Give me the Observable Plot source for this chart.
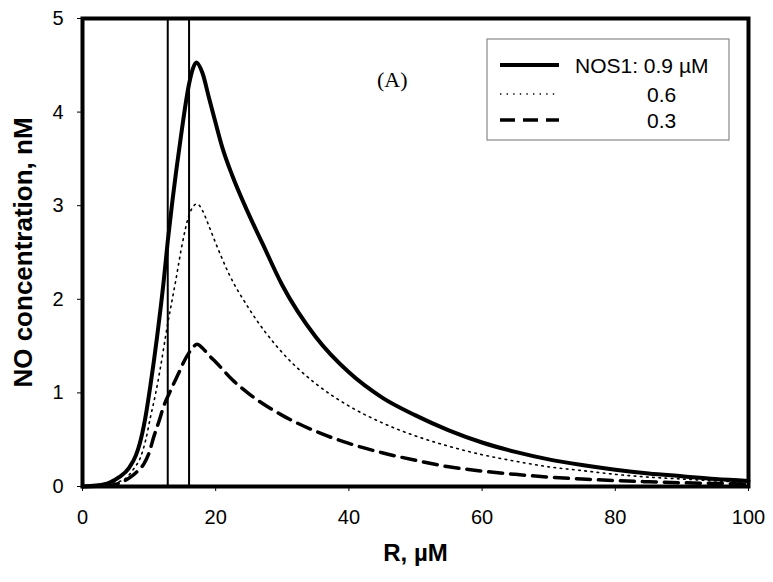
<!DOCTYPE html>
<html><head><meta charset="utf-8">
<script src="https://cdn.jsdelivr.net/npm/d3@7"></script>
<script src="https://cdn.jsdelivr.net/npm/@observablehq/plot@0.6"></script>
<style>
body{margin:0;background:#fff;}
</style></head><body><div id="chart"></div>
<script>
const seriesNames = ["NOS1: 0.9 \u00b5M", "0.6", "0.3"];
const xTicks = [0, 20, 40, 60, 80, 100];
const yTicks = [0, 1, 2, 3, 4, 5];
const xTitle = "R, \u00b5M";
const yTitle = "NO concentration, nM";
const markerLines = [12.8, 16];
const annotation = [{R: 46.5, C: 4.34, label: "(A)"}];

const r09 = [0,2,4,5.5,7,8,8.6,9.4,10.2,11.2,12.2,12.8,13.5,14.7,16,16.6,17.1,18,19,20,21,22.5,24.7,27,30,35,40,45,50,55,60,65,70,75,80,85,90,95,100];
const c09 = [0,0.01,0.04,0.1,0.2,0.33,0.46,0.72,1.08,1.6,2.2,2.62,3.05,3.7,4.3,4.47,4.53,4.42,4.15,3.88,3.62,3.32,2.95,2.6,2.15,1.6,1.22,0.95,0.76,0.6,0.47,0.37,0.29,0.23,0.18,0.14,0.11,0.08,0.06];

const r06 = [0,3,5,6.7,7.7,8.7,9.5,10.2,11,11.7,12.7,14,15,16,17.2,18,19,20,22,25,30,35,40,45,50,55,60,65,70,75,80,85,90,95,100];
const c06 = [0,0.01,0.04,0.1,0.19,0.31,0.5,0.74,1.0,1.27,1.7,2.2,2.6,2.9,3.02,2.95,2.78,2.6,2.27,1.9,1.43,1.1,0.86,0.68,0.54,0.43,0.34,0.27,0.21,0.17,0.13,0.10,0.08,0.06,0.045];

const r03 = [0,4,6,7.2,8.2,9.2,10,10.7,11.5,12.2,13,13.7,14.5,15.2,16,16.5,17.2,18,19,20,22.5,25,30,35,40,45,50,55,60,65,70,75,80,85,90,95,100];
const c03 = [0,0.01,0.05,0.1,0.16,0.24,0.36,0.53,0.7,0.86,0.99,1.1,1.22,1.33,1.43,1.48,1.52,1.48,1.4,1.33,1.14,0.99,0.76,0.59,0.46,0.36,0.28,0.21,0.165,0.13,0.1,0.08,0.063,0.05,0.04,0.033,0.027];

const toRows = (rs, cs) => rs.map((R, i) => ({R, C: cs[i]}));
const d09 = toRows(r09, c09), d06 = toRows(r06, c06), d03 = toRows(r03, c03);

const styles = [
  {stroke: "#000", strokeWidth: 4, strokeDasharray: null},
  {stroke: "#000", strokeWidth: 1.6, strokeDasharray: "1.6 4.6"},
  {stroke: "#000", strokeWidth: 3.5, strokeDasharray: "14 8"}
];

const W = 773, H = 582, ML = 82, MR = 25, MT = 18, MB = 96;

const plot = Plot.plot({
  width: W, height: H,
  marginLeft: ML, marginRight: MR, marginTop: MT, marginBottom: MB,
  style: {fontFamily: "'Liberation Sans', Arial, sans-serif", fontSize: "20px", color: "#000", background: "#fff"},
  x: {domain: [0, 100], ticks: xTicks, tickSize: 5, tickPadding: 18, tickFormat: "d", label: null},
  y: {domain: [0, 5], ticks: yTicks, tickSize: 5, tickPadding: 14, tickFormat: "d", label: null},
  marks: [
    Plot.ruleX(markerLines, {y1: 0, y2: 5, stroke: "#000", strokeWidth: 2}),
    Plot.line(d03, {x: "R", y: "C", curve: "monotone-x", ...styles[2]}),
    Plot.line(d06, {x: "R", y: "C", curve: "monotone-x", ...styles[1]}),
    Plot.line(d09, {x: "R", y: "C", curve: "monotone-x", ...styles[0]}),
    Plot.frame({stroke: "#000", strokeWidth: 4}),
    Plot.text(annotation, {x: "R", y: "C", text: "label", fontFamily: "'Liberation Serif', 'Times New Roman', serif", fontSize: 22, fill: "#000"}),
    Plot.text([yTitle], {frameAnchor: "left", textAnchor: "middle", dx: -59, rotate: -90, fontWeight: "bold", fontSize: 26, fill: "#000"}),
    Plot.text([xTitle], {frameAnchor: "bottom", dy: 74, fontWeight: "bold", fontSize: 24, fill: "#000"})
  ]
});

document.getElementById("chart").appendChild(plot);

// Legend box inside the plot area
const svg = d3.select(plot);
const lg = svg.append("g").attr("class", "legend");
lg.append("rect").attr("x", 487).attr("y", 39).attr("width", 242).attr("height", 101)
  .attr("fill", "#fff").attr("stroke", "#888").attr("stroke-width", 1.2);
const rowsY = [65, 94, 120];
const textX = [575, 647, 647];
seriesNames.forEach((name, i) => {
  const s = styles[i];
  const ln = lg.append("line").attr("x1", 500).attr("x2", 559).attr("y1", rowsY[i]).attr("y2", rowsY[i])
    .attr("stroke", s.stroke).attr("stroke-width", i === 1 ? 1.4 : s.strokeWidth);
  if (s.strokeDasharray) ln.attr("stroke-dasharray", i === 1 ? "1.4 5.2" : "15 8");
  lg.append("text").attr("x", textX[i]).attr("y", rowsY[i] + 8)
    .attr("text-anchor", "start")
    .attr("font-family", "'Liberation Sans', Arial, sans-serif").attr("font-size", 21)
    .attr("fill", "#000").text(name);
});
</script></body></html>
